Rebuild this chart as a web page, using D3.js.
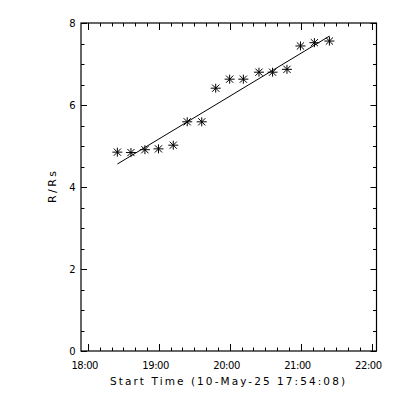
<!DOCTYPE html>
<html><head><meta charset="utf-8">
<script src="https://cdn.jsdelivr.net/npm/d3@7"></script>
<style>body{margin:0;background:#fff}svg{display:block}</style>
</head><body>
<script>
const startTime = "17:54:08";
const endTime = "22:04:08";
const times = ["18:24:54","18:36:24","18:48:12","18:59:42","19:12:12","19:24:00","19:36:18","19:48:06","19:59:54","20:11:30","20:24:42","20:36:12","20:48:24","20:59:48","21:11:36","21:24:18"];
const heights = [4.85,4.84,4.91,4.93,5.02,5.59,5.59,6.41,6.63,6.63,6.80,6.80,6.87,7.44,7.52,7.56];
const fitValues = [4.56,7.68];
const xTickLabels = ["18:00","19:00","20:00","21:00","22:00"];
const yTicks = [0,2,4,6,8];
const xTitle = "Start Time (10-May-25 17:54:08)";
const yTitle = "R/Rs";

const parse = d3.timeParse("%H:%M:%S");
const parseHM = d3.timeParse("%H:%M");
const W=400,H=400, L=81, R=376.5, T=23, B=351;
const svg=d3.select("body").append("svg").attr("width",W).attr("height",H);
svg.append("rect").attr("width",W).attr("height",H).attr("fill","#fff");
const x=d3.scaleTime().domain([parse(startTime),parse(endTime)]).range([L,R]);
const y=d3.scaleLinear().domain([0,8]).range([B,T]);
const font="DejaVu Sans, sans-serif";

// frame
svg.append("rect").attr("x",L).attr("y",T).attr("width",R-L).attr("height",B-T)
  .attr("fill","none").attr("stroke","#000").attr("stroke-width",1.2);

const majX = xTickLabels.map(s=>parseHM(s));
const minX = d3.timeMinute.every(10).range(parse(startTime),parse(endTime));
const g=svg.append("g").attr("stroke","#000").attr("stroke-width",1);
minX.forEach(t=>{
  const isMaj = t.getMinutes()===0;
  const len = isMaj?7:3.5;
  const px=Math.round(x(t))+0.5;
  g.append("line").attr("x1",px).attr("x2",px).attr("y1",B).attr("y2",B-len);
  g.append("line").attr("x1",px).attr("x2",px).attr("y1",T).attr("y2",T+len);
});
d3.range(0,8.01,0.5).forEach(v=>{
  const isMaj = Math.abs(v-Math.round(v/2)*2)<1e-6;
  const len = isMaj?6:3.5;
  const py=Math.round(y(v))+0.5;
  g.append("line").attr("x1",L).attr("x2",L+len).attr("y1",py).attr("y2",py);
  g.append("line").attr("x1",R).attr("x2",R-len).attr("y1",py).attr("y2",py);
});
majX.forEach((t,i)=>{
  svg.append("text").attr("x",x(t)-3).attr("y",368.5).attr("text-anchor","middle")
    .attr("font-family",font).attr("font-size",10)
    .attr("textLength",27).attr("lengthAdjust","spacing").text(xTickLabels[i]);
});
yTicks.forEach(v=>{
  svg.append("text").attr("x",L-5.5).attr("y",y(v)+3.7).attr("text-anchor","end")
    .attr("font-family",font).attr("font-size",10).text(v);
});
svg.append("text").attr("x",227.5).attr("y",385).attr("text-anchor","middle")
  .attr("font-family",font).attr("font-size",10.5)
  .attr("textLength",235).attr("lengthAdjust","spacing").text(xTitle);
svg.append("text").attr("transform",`translate(55.5,${(T+B)/2}) rotate(-90)`).attr("text-anchor","middle")
  .attr("font-family",font).attr("font-size",11)
  .attr("textLength",32).attr("lengthAdjust","spacing").text(yTitle);

// fit line
const t0=parse(times[0]), t1=parse(times[times.length-1]);
svg.append("line").attr("x1",x(t0)).attr("y1",y(fitValues[0])).attr("x2",x(t1)).attr("y2",y(fitValues[1]))
  .attr("stroke","#000").attr("stroke-width",1);

// stars
const sg=svg.append("g").attr("stroke","#000").attr("stroke-width",1);
times.forEach((s,i)=>{
  const px=x(parse(s)), py=y(heights[i]);
  const a=5, b=4.5;
  sg.append("path").attr("d",`M${px-a},${py}H${px+a}M${px},${py-b}V${py+b}M${px-3.6},${py-3.6}L${px+3.6},${py+3.6}M${px-3.6},${py+3.6}L${px+3.6},${py-3.6}`);
});
</script>
</body></html>
